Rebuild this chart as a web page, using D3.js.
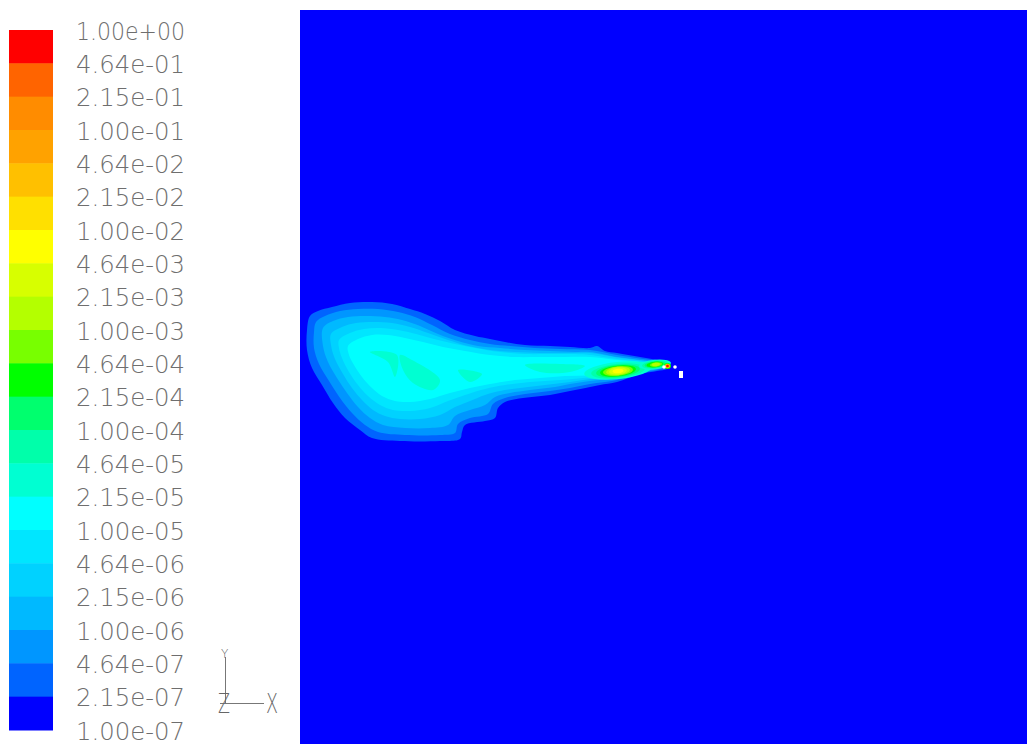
<!DOCTYPE html>
<html>
<head>
<meta charset="utf-8">
<script src="https://cdn.jsdelivr.net/npm/d3@7"></script>
<style>
body { margin: 0; background: #fff; }
</style>
</head>
<body>
<script>

// contour levels (legend tick labels, top to bottom)
var levelLabels = ["1.00e+00", "4.64e-01", "2.15e-01", "1.00e-01", "4.64e-02", "2.15e-02",
    "1.00e-02", "4.64e-03", "2.15e-03", "1.00e-03", "4.64e-04", "2.15e-04", "1.00e-04",
    "4.64e-05", "2.15e-05", "1.00e-05", "4.64e-06", "2.15e-06", "1.00e-06", "4.64e-07",
    "2.15e-07", "1.00e-07"];

// one colour per band between two levels, band 0 = highest
var bandColors = ["#ff0000", "#ff6400", "#ff8c00", "#ffa200", "#ffc000", "#ffe000", "#ffff00",
    "#d7ff00", "#b4ff00", "#78ff00", "#00ff00", "#00ff6e", "#00ffaa", "#00ffd2", "#00ffff",
    "#00e6ff", "#00d2ff", "#00b9ff", "#0096ff", "#0064ff", "#0000ff"];

// plume contour outlines in model coordinates (domain 0..727 x 0..734, y downward)
var band19 = [[10,306],[18,301],[32,297],[50,293],[72,292],[92,294],[110,299],[125,304],[140,311],
    [155,320],[175,326],[190,329],[205,332],[225,335],[250,336],[270,337],[290,338],[297,336],
    [305,341],[317,343],[340,347],[357,350],[368,353],[370,356],[367,359],[357,361],[340,364],
    [317,372],[300,375],[290,377],[270,381],[250,385],[223,388],[205,392],[198,398],[195,408],
    [185,411],[165,415],[162,422],[160,429],[140,431],[100,431],[72,428],[60,420],[45,408],
    [33,393],[22,375],[12,358],[7,340],[7,320]];
var band18 = [[16,312],[25,306],[40,301],[58,299],[78,299],[98,302],[115,307],[132,315],[150,324],
    [170,330],[190,334],[210,336],[235,338],[260,339],[290,340],[317,345],[340,348.5],[357,351.5],
    [367,356],[357,360],[340,363],[317,370],[290,374],[270,378],[250,381],[225,384],[205,388],
    [193,394],[188,404],[170,408],[158,414],[155,423],[140,425],[105,425],[78,422],[65,415],
    [52,403],[40,388],[29,371],[19,354],[14,338],[14,322]];
var band17 = [[23,318],[33,311],[48,307],[65,306],[85,307],[102,310],[120,316],[138,324],[158,331],
    [178,336],[200,338],[225,340],[250,341],[275,342],[290,342],[317,347],[340,350],[357,352.5],
    [365,356],[357,359],[340,362],[317,368],[290,371],[270,374],[255,377],[230,380],[210,383],
    [195,387],[185,395],[170,400],[155,406],[148,415],[130,418],[105,418],[83,415],[70,408],
    [58,397],[47,383],[37,368],[28,352],[23,336]];
var band16 = [[31,324],[42,317],[56,313],[73,312],[92,313],[110,317],[128,323],[148,330],[168,336],
    [190,340],[215,342],[240,343],[265,343],[290,343],[317,347.5],[340,350.5],[357,353],[364,356],
    [357,358.5],[340,361],[317,367],[290,369],[270,372],[245,375],[220,378],[200,381],[185,385],
    [170,391],[155,397],[140,405],[120,409],[100,409],[85,406],[73,400],[62,390],[52,378],
    [43,364],[35,349],[31,335]];
var band15 = [[39,330],[50,323],[64,319],[80,318],[98,320],[116,324],[134,329],[155,334],[175,338],
    [200,342],[225,344],[250,344],[275,344],[290,345],[317,349],[340,351.5],[357,353.5],[363,356],
    [357,358],[340,360.5],[317,366],[290,367.5],[260,370],[230,372],[205,375],[185,379],[165,385],
    [148,391],[130,398],[110,401],[93,400],[80,395],[68,386],[58,375],[49,362],[42,348],[39,338]];
var band14 = [[48,336],[58,329],[72,325],[88,325],[105,328],[123,332],[143,337],[165,341],[190,345],
    [215,347],[240,347],[265,347],[290,347],[317,350],[340,352],[355,354],[362,356],[355,357.5],
    [340,359.5],[317,365],[290,365.5],[265,366],[240,368],[215,370],[190,374],[170,378],[150,383],
    [130,389],[110,392],[95,391],[82,386],[72,378],[62,367],[54,355],[49,345]];
var band13a = [[70,342],[97,345],[95,367],[88,352]];
var band13b = [[100,345],[112,350],[140,370],[133,380],[113,373],[103,360]];
var band13c = [[158,360],[182,364],[170,372]];
var band13d = [[225,355],[260,354],[285,356],[270,362],[240,362]];

var contours = [
    {band: 19, pts: band19}, {band: 18, pts: band18}, {band: 17, pts: band17},
    {band: 16, pts: band16}, {band: 15, pts: band15}, {band: 14, pts: band14},
    {band: 13, pts: band13a}, {band: 13, pts: band13b}, {band: 13, pts: band13c},
    {band: 13, pts: band13d}
];

// hot spots near the source: nested bands (centre, half-axes in model units)
var hotSpots = [
    {band: 13, cx: 318, cy: 360.5, rx: 34, ry: 8.5}, {band: 12, cx: 318, cy: 361, rx: 27, ry: 7.2},
    {band: 11, cx: 318, cy: 361, rx: 22, ry: 6.2}, {band: 10, cx: 318, cy: 361, rx: 18, ry: 5.4},
    {band: 9, cx: 318, cy: 361, rx: 15, ry: 4.8}, {band: 8, cx: 318, cy: 361, rx: 12, ry: 4.2},
    {band: 7, cx: 318, cy: 361, rx: 9, ry: 3.4}, {band: 6, cx: 318, cy: 361, rx: 5.5, ry: 2.3},
    {band: 13, cx: 355, cy: 354.5, rx: 16, ry: 4.8}, {band: 12, cx: 355, cy: 354.5, rx: 13, ry: 4},
    {band: 11, cx: 355, cy: 354.5, rx: 10.5, ry: 3.3}, {band: 10, cx: 355, cy: 354.5, rx: 8.5, ry: 2.8},
    {band: 9, cx: 356, cy: 354.5, rx: 6, ry: 2.2}, {band: 8, cx: 356, cy: 354.5, rx: 4, ry: 1.7},
    {band: 10, cx: 367.5, cy: 356, rx: 3.5, ry: 3}, {band: 4, cx: 367.5, cy: 356, rx: 2.6, ry: 2.2},
    {band: 1, cx: 367.5, cy: 356, rx: 1.8, ry: 1.6}, {band: 0, cx: 367.5, cy: 356, rx: 1.1, ry: 1}
];

// injector geometry (white)
var injectorDots = [[364, 357], [375, 357]];
var injectorBar = [[379, 361], [383, 368]];

var W = 1027, H = 744;

var svg = d3.select("body").append("svg")
    .attr("width", W)
    .attr("height", H);

// ---- contour plot
var x = d3.scaleLinear().domain([0, 727]).range([300, 1027]);
var y = d3.scaleLinear().domain([0, 734]).range([10, 744]);

svg.append("rect")
    .attr("x", x(0)).attr("y", y(0))
    .attr("width", x(727) - x(0)).attr("height", y(734) - y(0))
    .attr("fill", bandColors[20]);

var line = d3.line()
    .x(function(d) { return x(d[0]); })
    .y(function(d) { return y(d[1]); })
    .curve(d3.curveCatmullRomClosed.alpha(0.5));

svg.selectAll(".band")
    .data(contours)
    .enter().append("path")
    .attr("class", "band")
    .attr("d", function(d) { return line(d.pts); })
    .attr("fill", function(d) { return bandColors[d.band]; });

svg.selectAll(".spot")
    .data(hotSpots)
    .enter().append("ellipse")
    .attr("class", "spot")
    .attr("cx", function(d) { return x(d.cx); })
    .attr("cy", function(d) { return y(d.cy); })
    .attr("rx", function(d) { return x(d.rx) - x(0); })
    .attr("ry", function(d) { return y(d.ry) - y(0); })
    .attr("transform", function(d) { return "rotate(-6," + x(d.cx) + "," + y(d.cy) + ")"; })
    .attr("fill", function(d) { return bandColors[d.band]; });

svg.selectAll(".dot")
    .data(injectorDots)
    .enter().append("circle")
    .attr("cx", function(d) { return x(d[0]); })
    .attr("cy", function(d) { return y(d[1]); })
    .attr("r", 1.8)
    .attr("fill", "#fff");

svg.append("rect")
    .attr("x", x(injectorBar[0][0])).attr("y", y(injectorBar[0][1]))
    .attr("width", x(injectorBar[1][0]) - x(injectorBar[0][0]))
    .attr("height", y(injectorBar[1][1]) - y(injectorBar[0][1]))
    .attr("fill", "#fff");

// ---- colour legend
var lb = d3.scaleBand().domain(d3.range(bandColors.length)).range([30, 730]);
var ll = d3.scaleLinear().domain([0, levelLabels.length - 1]).range([30, 730]);

svg.selectAll(".swatch")
    .data(bandColors)
    .enter().append("rect")
    .attr("class", "swatch")
    .attr("x", 9)
    .attr("y", function(d, i) { return lb(i); })
    .attr("width", 44)
    .attr("height", lb.bandwidth() + 0.5)
    .attr("fill", function(d) { return d; });

svg.selectAll(".lvl")
    .data(levelLabels)
    .enter().append("text")
    .attr("class", "lvl")
    .attr("x", 76)
    .attr("y", function(d, i) { return ll(i) + 9.5; })
    .attr("textLength", 109)
    .attr("lengthAdjust", "spacingAndGlyphs")
    .attr("font-family", "DejaVu Sans")
    .attr("font-weight", 200)
    .attr("font-size", "24px")
    .attr("fill", "#6e6e6e")
    .text(function(d) { return d; });

// ---- axis triad
var triad = svg.append("g")
    .attr("stroke", "#777")
    .attr("stroke-width", 1);
triad.append("line").attr("x1", 225.5).attr("y1", 657).attr("x2", 225.5).attr("y2", 703.5);
triad.append("line").attr("x1", 220).attr("y1", 703.5).attr("x2", 264).attr("y2", 703.5);

svg.append("text")
    .attr("x", 221).attr("y", 658)
    .attr("font-family", "DejaVu Sans").attr("font-weight", 200)
    .attr("font-size", "12px").attr("fill", "#666")
    .text("Y");
svg.append("text")
    .attr("x", 218).attr("y", 713)
    .attr("textLength", 12).attr("lengthAdjust", "spacingAndGlyphs")
    .attr("font-family", "DejaVu Sans").attr("font-weight", 200)
    .attr("font-size", "26px").attr("fill", "#666")
    .text("Z");
svg.append("text")
    .attr("x", 266).attr("y", 713)
    .attr("textLength", 12).attr("lengthAdjust", "spacingAndGlyphs")
    .attr("font-family", "DejaVu Sans").attr("font-weight", 200)
    .attr("font-size", "26px").attr("fill", "#666")
    .text("X");

</script>
</body>
</html>
